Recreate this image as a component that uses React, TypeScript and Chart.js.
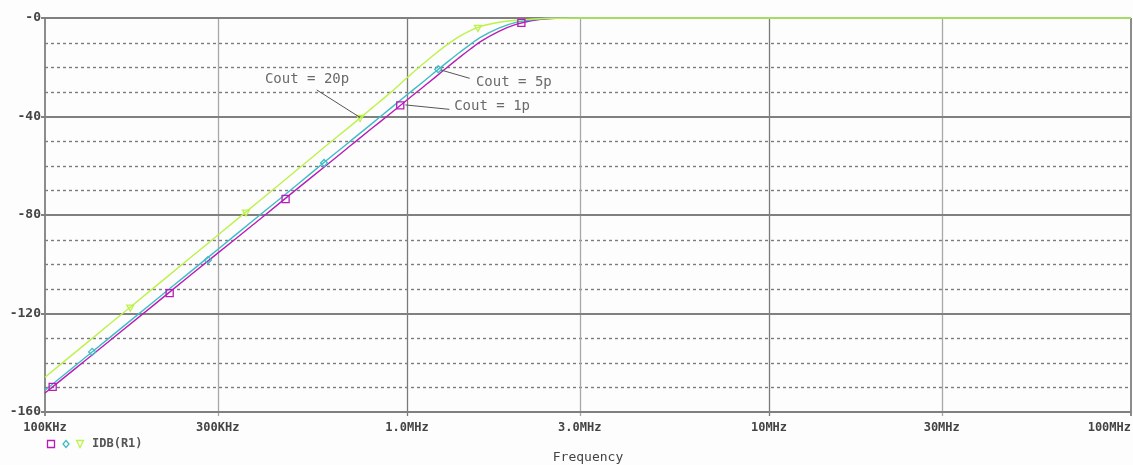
import React, { useEffect, useRef } from "react";
import { Chart, registerables } from "chart.js";

Chart.register(...registerables);

// Frequency grid (Hz) shared by the three traces
const freqs = [
  100e3, 120e3, 150e3, 200e3, 250e3, 300e3, 400e3, 500e3, 600e3, 700e3, 800e3, 900e3,
  1.0e6, 1.1e6, 1.2e6, 1.3e6, 1.4e6, 1.5e6, 1.6e6, 1.8e6, 2.0e6, 2.2e6, 2.5e6, 3e6,
  5e6, 10e6, 30e6, 100e6,
];

// IDB(R1) in dB for each output capacitance
const cout1p = [
  -152.3, -142.9, -131.4, -116.5, -104.9, -95.5, -80.7, -69.1, -59.7, -51.7, -44.8, -38.8,
  -33.3, -28.4, -23.9, -19.7, -15.9, -12.5, -9.5, -5.3, -2.6, -1.1, -0.2, 0,
  0, 0, 0, 0,
];
const cout5p = [
  -151.2, -141.7, -130.1, -115.1, -103.5, -94.0, -79.0, -67.4, -57.8, -49.8, -42.9, -36.7,
  -31.2, -26.3, -21.7, -17.6, -13.9, -10.6, -7.8, -4.0, -1.8, -0.7, -0.1, 0,
  0, 0, 0, 0,
];
const cout20p = [
  -145.9, -136.3, -124.6, -109.5, -97.8, -88.2, -73.1, -61.3, -51.7, -43.7, -36.6, -30.3,
  -24.3, -19.0, -14.4, -10.5, -7.4, -5.0, -3.4, -1.7, -0.9, -0.5, -0.1, 0,
  0, 0, 0, 0,
];

// Trace markers: [frequency, dB]
const marks1p = [[105e3, -149.8], [221e3, -111.7], [462e3, -73.5], [958e3, -35.5], [2.07e6, -2.0]];
const marks5p = [[135e3, -135.6], [282e3, -98.3], [590e3, -58.9], [1.22e6, -20.8]];
const marks20p = [[172e3, -117.4], [359e3, -78.8], [742e3, -40.4], [1.57e6, -3.8]];

// Axis ticks
const xTicks = [1e5, 3e5, 1e6, 3e6, 1e7, 3e7, 1e8];
const xTickLabels = ["100KHz", "300KHz", "1.0MHz", "3.0MHz", "10MHz", "30MHz", "100MHz"];
const xDecades = [1e6, 1e7];
const yMajor = [0, -40, -80, -120, -160];
const yMajorLabels = ["-0", "-40", "-80", "-120", "-160"];
const yMinor = [-10, -20, -30, -50, -60, -70, -90, -100, -110, -130, -140, -150];

// Trace labels with leader lines (data coordinates)
const noteTexts = ["Cout = 20p", "Cout = 5p", "Cout = 1p"];
const noteTextPos = [[4.05e5, -24.9], [1.55e6, -26.1], [1.35e6, -36.0]];
const noteLineFrom = [[5.63e5, -29.2], [1.24e6, -21.1], [0.99e6, -35.3]];
const noteLineTo = [[7.42e5, -40.4], [1.49e6, -24.5], [1.31e6, -37.1]];

const MAGENTA = "#b81cb8";
const CYAN = "#3fbcc6";
const GREEN = "#bdf24a";

const pts = (ys: number[]) => freqs.map((f, i) => ({ x: f, y: ys[i] }));
const markPts = (m: number[][]) => m.map(([x, y]) => ({ x, y }));

function drawMarker(ctx: CanvasRenderingContext2D, kind: string, x: number, y: number, color: string) {
  ctx.save();
  ctx.strokeStyle = color;
  ctx.lineWidth = 1.3;
  ctx.beginPath();
  if (kind === "square") {
    ctx.rect(x - 3.5, y - 3.5, 7, 7);
  } else if (kind === "diamond") {
    ctx.moveTo(x, y - 3.5);
    ctx.lineTo(x + 3, y);
    ctx.lineTo(x, y + 3.5);
    ctx.lineTo(x - 3, y);
    ctx.closePath();
  } else {
    ctx.moveTo(x - 3.5, y - 3.5);
    ctx.lineTo(x + 3.5, y - 3.5);
    ctx.lineTo(x, y + 3.5);
    ctx.closePath();
  }
  ctx.stroke();
  ctx.restore();
}

const framePlugin = {
  id: "pspiceFrame",
  beforeDatasetsDraw(chart: any) {
    const { ctx, chartArea: a, scales } = chart;
    const xs = scales.x;
    const ys = scales.y;
    ctx.save();
    // dotted minor lines
    ctx.strokeStyle = "#7c7c7c";
    ctx.lineWidth = 1.4;
    ctx.setLineDash([3, 3]);
    for (const v of yMinor) {
      const py = Math.round(ys.getPixelForValue(v)) + 0.5;
      ctx.beginPath();
      ctx.moveTo(a.left, py);
      ctx.lineTo(a.right, py);
      ctx.stroke();
    }
    ctx.setLineDash([]);
    // vertical grid lines
    ctx.lineWidth = 1.3;
    for (const f of xTicks.slice(1, -1)) {
      const px = Math.round(xs.getPixelForValue(f)) + 0.5;
      ctx.strokeStyle = xDecades.includes(f) ? "#7a7a7a" : "#a8a8a8";
      ctx.beginPath();
      ctx.moveTo(px, a.top);
      ctx.lineTo(px, a.bottom + 4);
      ctx.stroke();
    }
    // horizontal major lines
    ctx.strokeStyle = "#808080";
    ctx.lineWidth = 1.8;
    for (const v of yMajor) {
      const py = Math.round(ys.getPixelForValue(v));
      ctx.beginPath();
      ctx.moveTo(a.left - 4, py);
      ctx.lineTo(a.right, py);
      ctx.stroke();
    }
    // frame sides
    ctx.beginPath();
    ctx.moveTo(a.left, a.top);
    ctx.lineTo(a.left, a.bottom + 4);
    ctx.moveTo(a.right, a.top);
    ctx.lineTo(a.right, a.bottom + 4);
    ctx.stroke();
    ctx.restore();
  },
  afterDraw(chart: any) {
    const { ctx, chartArea: a, scales } = chart;
    const xs = scales.x;
    const ys = scales.y;
    ctx.save();
    ctx.fillStyle = "#444";
    ctx.textBaseline = "middle";
    // y tick labels
    ctx.font = "bold 13px 'DejaVu Sans Mono', monospace";
    ctx.textAlign = "right";
    yMajor.forEach((v, i) => {
      ctx.fillText(yMajorLabels[i], a.left - 4, ys.getPixelForValue(v));
    });
    // x tick labels
    ctx.font = "bold 12px 'DejaVu Sans Mono', monospace";
    xTicks.forEach((f, i) => {
      const px = xs.getPixelForValue(f);
      const w = ctx.measureText(xTickLabels[i]).width;
      const left = Math.min(px - w / 2, a.right - w);
      ctx.textAlign = "left";
      ctx.fillText(xTickLabels[i], left, a.bottom + 16);
    });
    // axis title
    ctx.font = "13px 'DejaVu Sans Mono', monospace";
    ctx.textAlign = "center";
    ctx.fillText("Frequency", (a.left + a.right) / 2, a.bottom + 46);
    // legend
    const ly = a.bottom + 32;
    drawMarker(ctx, "square", 51, ly, MAGENTA);
    drawMarker(ctx, "diamond", 66, ly, CYAN);
    drawMarker(ctx, "triangle", 80, ly, GREEN);
    ctx.font = "bold 12px 'DejaVu Sans Mono', monospace";
    ctx.textAlign = "left";
    ctx.fillStyle = "#555";
    ctx.fillText("IDB(R1)", 92, ly);
    // trace labels and leaders
    ctx.strokeStyle = "#555";
    ctx.lineWidth = 1;
    ctx.font = "14px 'DejaVu Sans Mono', monospace";
    ctx.fillStyle = "#6a6a6a";
    noteTexts.forEach((t, i) => {
      const [fx, fy] = noteLineFrom[i];
      const [tx, ty] = noteLineTo[i];
      ctx.beginPath();
      ctx.moveTo(xs.getPixelForValue(fx), ys.getPixelForValue(fy));
      ctx.lineTo(xs.getPixelForValue(tx), ys.getPixelForValue(ty));
      ctx.stroke();
      const [px, py] = noteTextPos[i];
      ctx.fillText(t, xs.getPixelForValue(px), ys.getPixelForValue(py));
    });
    ctx.restore();
  },
};

export default function App() {
  const ref = useRef<HTMLCanvasElement | null>(null);

  useEffect(() => {
    if (!ref.current) return;
    const line = (data: any, color: string) => ({
      data,
      borderColor: color,
      borderWidth: 1.4,
      pointRadius: 0,
      showLine: true,
      cubicInterpolationMode: "monotone",
      clip: 4,
    });
    const marker = (data: any, color: string, style: string, radius: number, rotation = 0) => ({
      data,
      borderColor: color,
      backgroundColor: "rgba(0,0,0,0)",
      borderWidth: 1.3,
      pointStyle: style,
      pointRadius: radius,
      pointRotation: rotation,
      showLine: false,
      clip: 6,
    });
    // lower dataset index is painted on top
    const chart = new Chart(ref.current, {
      type: "scatter",
      data: {
        datasets: [
          marker(markPts(marks20p), GREEN, "triangle", 4, 180),
          marker(markPts(marks5p), CYAN, "rectRot", 3.5),
          marker(markPts(marks1p), MAGENTA, "rect", 5),
          line(pts(cout20p), GREEN),
          line(pts(cout5p), CYAN),
          line(pts(cout1p), MAGENTA),
        ] as any,
      },
      options: {
        responsive: false,
        animation: false,
        devicePixelRatio: 1,
        layout: { autoPadding: false, padding: { left: 45, top: 18, right: 2, bottom: 53 } },
        plugins: { legend: { display: false }, tooltip: { enabled: false } },
        scales: {
          x: { type: "logarithmic", min: 1e5, max: 1e8, display: false },
          y: { type: "linear", min: -160, max: 0, display: false },
        },
      },
      plugins: [framePlugin],
    });
    return () => chart.destroy();
  }, []);

  return (
    <div style={{ position: "absolute", left: 0, top: 0, width: 1133, height: 465, background: "#fdfdfd" }}>
      <canvas ref={ref} width={1133} height={465} />
    </div>
  );
}
